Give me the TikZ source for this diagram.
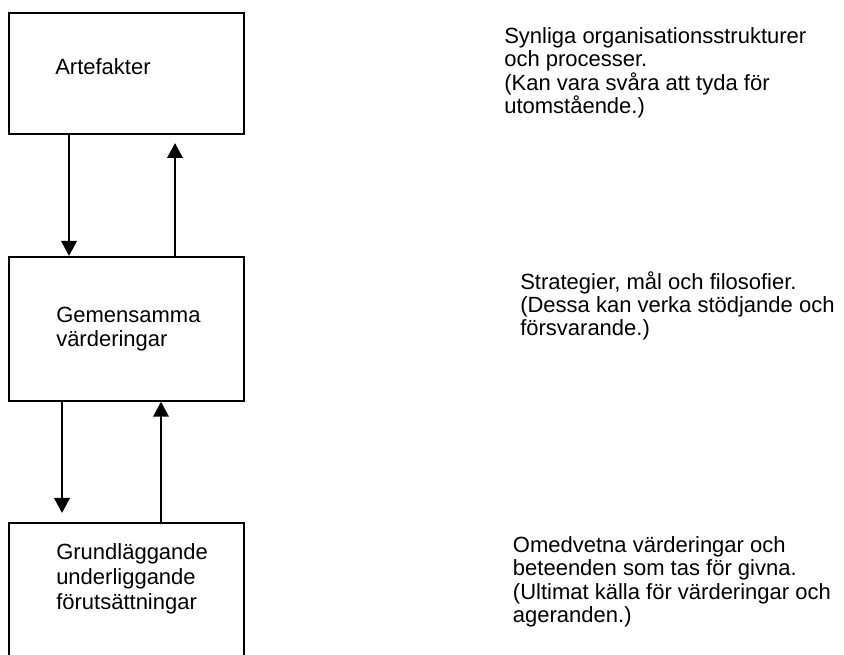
\documentclass[tikz,border=0pt]{standalone}
\usepackage{fontspec}
\setmainfont{Liberation Sans}
\usetikzlibrary{arrows.meta}
\begin{document}
\begin{tikzpicture}[x=0.75pt,y=-0.75pt,
  box/.style={draw=black,line width=1.5pt,rectangle,inner sep=0pt},
  lbl/.style={anchor=base west,inner sep=0pt,align=left,font=\fontsize{16.5pt}{18.6pt}\selectfont},
  side/.style={anchor=base west,inner sep=0pt,align=left,font=\fontsize{16.5pt}{17.6pt}\selectfont},
  arr/.style={line width=1.9pt,-{Triangle[length=11.25pt,width=11.5pt]}}]
\clip (0,0) rectangle (844,655);
\useasboundingbox (0,0) rectangle (844,655);
\node[box,minimum width=176.6pt,minimum height=90.75pt] (b1) at (126.25,73.5) {};
\node[box,minimum width=176.6pt,minimum height=107.8pt] (b2) at (126.25,328.85) {};
\node[box,minimum width=176.6pt,minimum height=133pt] (b3) at (126.25,611.35) {};
\node[lbl] (l1) at (55,75) {Artefakter};
\node[lbl] (l2) at (56,347) {Gemensamma\\värderingar};
\node[lbl] (l3) at (56,609.5) {Grundläggande\\underliggande\\förutsättningar};
\node[side] (s1) at (504,113.5) {Synliga organisationsstrukturer\\och processer.\\(Kan vara svåra att tyda för\\utomstående.)};
\node[side] (s2) at (520,336) {Strategier, mål och filosofier.\\(Dessa kan verka stödjande och\\försvarande.)};
\node[side] (s3) at (512.7,622.5) {Omedvetna värderingar och\\beteenden som tas för givna.\\(Ultimat källa för värderingar och\\ageranden.)};
\coordinate (x1) at (69,0);
\coordinate (t2) at (175,143);
\coordinate (t3) at (62,513);
\coordinate (x4) at (161,0);
\draw[arr] (x1 |- b1.south) -- (x1 |- b2.north);
\draw[arr] (t2 |- b2.north) -- (t2);
\draw[arr] (t3 |- b2.south) -- (t3);
\draw[arr] (x4 |- b3.north) -- (x4 |- b2.south);
\end{tikzpicture}
\end{document}
